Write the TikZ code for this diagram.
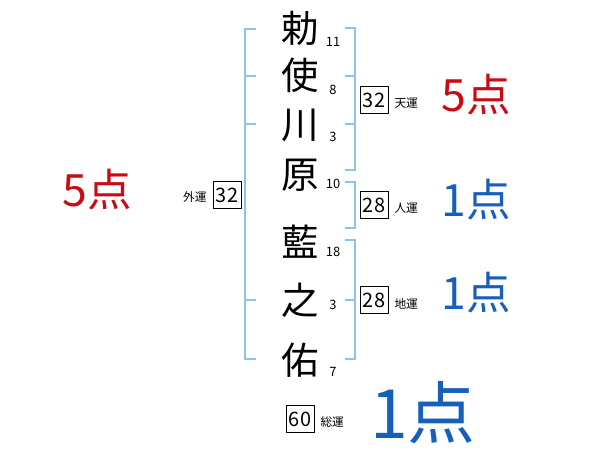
\documentclass[tikz,border=0pt]{standalone}
\usepackage{fontspec}
\setmainfont{Noto Sans CJK JP}
\usepackage{xcolor}
\definecolor{pointred}{RGB}{200, 12, 20}
\definecolor{pointblue}{RGB}{22, 96, 186}
\definecolor{bracketblue}{RGB}{140, 195, 232}
\usepackage{tikz}
\usetikzlibrary{positioning}

\begin{document}
\begin{tikzpicture}[x=0.03cm, y=-0.03cm,
        kanji/.style={inner sep=0pt, font=\fontsize{32}{32}\selectfont},
        strokes/.style={inner sep=0pt, font=\fontsize{11}{11}\selectfont},
        unbox/.style={draw, line width=0.6pt, minimum width=24pt, minimum height=23pt, inner sep=0pt, font=\fontsize{17}{17}\selectfont},
        unlabel/.style={inner sep=0pt, font=\fontsize{10}{10}\selectfont},
        score/.style={inner sep=0pt, font=\fontsize{38}{38}\selectfont},
        bigscore/.style={inner sep=0pt, font=\fontsize{58}{58}\selectfont},
        bracket/.style={draw=bracketblue, line width=1.5pt}]
        \useasboundingbox (0,0) rectangle (600,470);

        % 名前
        \node [kanji] (ch1) at (300,28) {勅};
        \node [kanji] (ch2) at (300,75) {使};
        \node [kanji] (ch3) at (300,125) {川};
        \node [kanji] (ch4) at (300,175) {原};
        \node [kanji] (ch5) at (300,242) {藍};
        \node [kanji] (ch6) at (300,300) {之};
        \node [kanji] (ch7) at (300,360) {佑};

        % 画数
        \node [strokes] (st1) at (333,42) {11};
        \node [strokes] (st2) at (333,90) {8};
        \node [strokes] (st3) at (333,137) {3};
        \node [strokes] (st4) at (333,184) {10};
        \node [strokes] (st5) at (333,252) {18};
        \node [strokes] (st6) at (333,305) {3};
        \node [strokes] (st7) at (333,372) {7};

        % 括弧
        \draw [bracket] (256,29) -| (245,359) -- (256,359);
        \draw [bracket] (245,76) -- (256,76);
        \draw [bracket] (245,124) -- (256,124);
        \draw [bracket] (245,300) -- (256,300);
        \draw [bracket] (345,28) -| (355,170) -- (345,170);
        \draw [bracket] (345,76) -- (355,76);
        \draw [bracket] (345,124) -- (355,124);
        \draw [bracket] (345,182) -| (355,228) -- (345,228);
        \draw [bracket] (345,240) -| (355,359) -- (345,359);
        \draw [bracket] (345,300) -- (355,300);

        % 運
        \node [unbox] (ten) at (374,100) {32};
        \node [unlabel, right=5pt of ten, yshift=-3pt] (tenlbl) {天運};
        \node [unbox] (jin) at (374,205) {28};
        \node [unlabel, right=5pt of jin, yshift=-3pt] (jinlbl) {人運};
        \node [unbox] (chi) at (374,300) {28};
        \node [unlabel, right=5pt of chi, yshift=-3pt] (chilbl) {地運};
        \node [unbox] (gai) at (227,195) {32};
        \node [unlabel, left=5pt of gai, yshift=-2pt] (gailbl) {外運};
        \node [unbox] (sou) at (300,419) {60};
        \node [unlabel, right=5pt of sou, yshift=-3pt] (soulbl) {総運};

        % 点数
        \node [score, text=pointred] (tenpt) at (476,95) {5点};
        \node [score, text=pointblue] (jinpt) at (476,200) {1点};
        \node [score, text=pointblue] (chipt) at (476,293) {1点};
        \node [score, text=pointred] (gaipt) at (97,190) {5点};
        \node [bigscore, text=pointblue] (soupt) at (423,413) {1点};
    \end{tikzpicture}
\end{document}
